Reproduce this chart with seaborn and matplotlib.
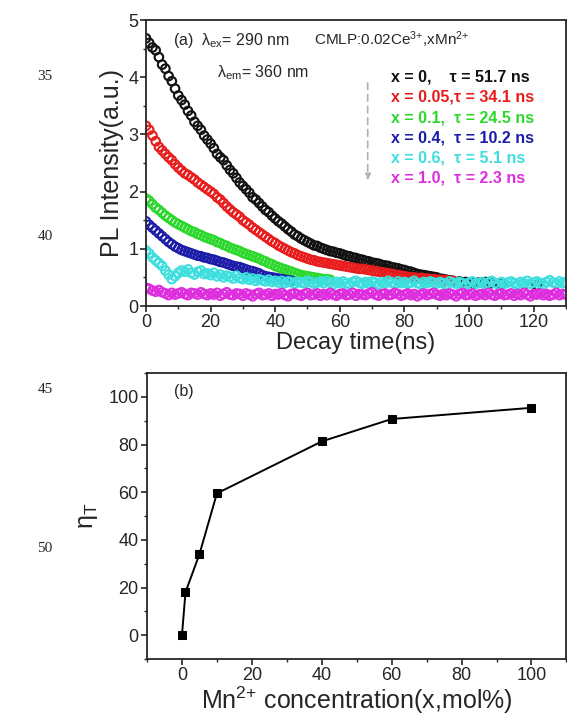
import numpy as np
import pandas as pd
import matplotlib
matplotlib.use("Agg")
import matplotlib.pyplot as plt
import seaborn as sns
from matplotlib.ticker import MultipleLocator

# ---------------- data ----------------
step_ns = 1.0
black_I = [4.68,4.60,4.52,4.47,4.35,4.22,4.15,4.02,3.93,3.80,3.68,3.60,3.52,3.41,3.33,3.22,3.15,3.08,2.98,2.91,
           2.84,2.76,2.66,2.60,2.55,2.46,2.38,2.32,2.24,2.16,2.10,2.04,1.98,1.90,1.86,1.80,1.74,1.68,1.64,1.58,
           1.53,1.48,1.44,1.39,1.34,1.30,1.25,1.22,1.18,1.15,1.12,1.09,1.06,1.05,1.02,1.00,0.98,0.96,0.95,0.93,
           0.92,0.90,0.88,0.87,0.85,0.84,0.82,0.81,0.79,0.78,0.76,0.75,0.74,0.72,0.71,0.70,0.68,0.67,0.66,0.64,
           0.63,0.61,0.60,0.58,0.56,0.55,0.54,0.53,0.52,0.51,0.50,0.48,0.47,0.46,0.45,0.44]
black_tail_t = [97, 99, 101, 103, 105, 107, 110, 119, 121]
black_tail_I = [0.43, 0.42, 0.40, 0.41, 0.42, 0.40, 0.38, 0.33, 0.36]
red_I = [3.15,3.08,2.98,2.88,2.78,2.72,2.66,2.60,2.55,2.48,2.42,2.37,2.32,2.29,2.25,2.21,2.16,2.12,2.08,2.04,
         2.00,1.96,1.90,1.86,1.80,1.74,1.69,1.64,1.60,1.56,1.50,1.46,1.42,1.37,1.33,1.29,1.25,1.21,1.17,1.13,
         1.10,1.06,1.03,1.00,0.97,0.94,0.92,0.89,0.87,0.85,0.83,0.81,0.80,0.78,0.77,0.76,0.75,0.74,0.73,0.72,
         0.71,0.70,0.69,0.68,0.67,0.66,0.65,0.65,0.64,0.63,0.62,0.61,0.60,0.59,0.58,0.57,0.56,0.55,0.54,0.53,
         0.52,0.51,0.50,0.50,0.49,0.49,0.48,0.48,0.47,0.47,0.46,0.46,0.45,0.45,0.44,0.44]
green_I = [1.88,1.84,1.78,1.72,1.68,1.63,1.58,1.54,1.50,1.46,1.43,1.40,1.37,1.34,1.31,1.29,1.26,1.24,1.21,1.19,
           1.17,1.15,1.12,1.10,1.07,1.05,1.02,1.00,0.98,0.96,0.93,0.91,0.89,0.87,0.85,0.83,0.80,0.78,0.75,0.73,
           0.70,0.68,0.66,0.64,0.62,0.60,0.58,0.56,0.54,0.53,0.52,0.51,0.50,0.49,0.48,0.47,0.47,0.46]
blue_I = [1.48,1.42,1.37,1.32,1.27,1.22,1.17,1.12,1.08,1.04,1.01,0.98,0.96,0.94,0.92,0.90,0.88,0.87,0.85,0.84,
          0.82,0.81,0.79,0.77,0.76,0.74,0.72,0.70,0.69,0.68,0.66,0.64,0.62,0.61,0.59,0.57,0.54,0.52,0.51,0.50,
          0.49,0.48,0.47,0.46,0.45,0.44]
cyan_I = [0.97,0.92,0.85,0.80,0.75,0.70,0.62,0.55,0.47,0.52,0.58,
          0.62,0.60,0.64,0.58,0.55,0.60,0.62,0.56,0.57,0.54,
          0.58,0.52,0.55,0.50,0.53,0.51,0.48,0.53,0.49,0.47,
          0.50,0.46,0.48,0.44,0.47,0.45,0.43,0.46,0.42,0.44,
          0.41,0.44,0.40,0.43,0.42,0.39,0.43,0.41,0.40,0.44,
          0.42,0.39,0.41,0.43,0.40,0.44,0.41,0.38,0.42,0.40,
          0.43,0.40,0.38,0.42,0.44,0.41,0.39,0.42,0.40,0.43,
          0.41,0.38,0.42,0.40,0.44,0.41,0.39,0.43,0.40,0.42,
          0.39,0.41,0.44,0.40,0.38,0.42,0.40,0.43,0.41,0.39,
          0.42,0.40,0.38,0.43,0.41,0.39,0.42,0.40,0.37,0.41,
          0.43,0.39,0.40,0.42,0.38,0.41,0.44,0.40,0.38,0.42,
          0.39,0.41,0.43,0.40,0.38,0.42,0.40,0.44,0.39,0.41,
          0.43,0.40,0.38,0.42,0.45,0.41,0.39,0.43,0.40,0.42]
magenta_I = [0.32,0.30,0.27,0.25,0.28,0.24,0.22,0.19,0.23,0.20,0.22,
             0.24,0.21,0.19,0.23,0.22,0.20,0.24,0.21,0.19,0.22,
             0.20,0.23,0.18,0.21,0.24,0.20,0.19,0.22,0.21,0.18,
             0.22,0.20,0.17,0.21,0.23,0.19,0.20,0.22,0.18,0.21,
             0.20,0.23,0.19,0.17,0.21,0.22,0.20,0.18,0.21,0.23,
             0.19,0.20,0.22,0.18,0.21,0.19,0.23,0.20,0.18,0.21,
             0.22,0.19,0.20,0.23,0.18,0.21,0.20,0.19,0.22,0.24,
             0.20,0.18,0.21,0.22,0.19,0.20,0.23,0.21,0.18,0.20,
             0.22,0.19,0.21,0.17,0.20,0.22,0.19,0.21,0.23,0.20,
             0.18,0.21,0.19,0.22,0.20,0.17,0.21,0.23,0.19,0.20,
             0.22,0.18,0.20,0.21,0.19,0.23,0.20,0.18,0.21,0.22,
             0.19,0.20,0.22,0.18,0.21,0.19,0.23,0.20,0.17,0.21,
             0.20,0.22,0.19,0.21,0.18,0.20,0.23,0.19,0.21,0.20]

legend_lines = ["x = 0,    \u03c4 = 51.7 ns", "x = 0.05,\u03c4 = 34.1 ns", "x = 0.1,  \u03c4 = 24.5 ns",
                "x = 0.4,  \u03c4 = 10.2 ns", "x = 0.6,  \u03c4 = 5.1 ns", "x = 1.0,  \u03c4 = 2.3 ns"]

mn_conc = [0, 1, 5, 10, 40, 60, 100]
eta_T = [0, 18, 34, 59.5, 81.3, 90.7, 95.4]

# ---------------- style ----------------
sns.set_style("ticks")
plt.rcParams["font.family"] = ["Liberation Sans", "DejaVu Sans"]
plt.rcParams["mathtext.fontset"] = "custom"
plt.rcParams["mathtext.rm"] = "Liberation Sans"
plt.rcParams["mathtext.it"] = "Liberation Sans"
plt.rcParams["axes.linewidth"] = 1.3
plt.rcParams["xtick.direction"] = "out"
plt.rcParams["ytick.direction"] = "out"

colors = ["#111111", "#e81c1c", "#2bd82b", "#1c1ca8", "#3ddede", "#dd2ddd"]

fig = plt.figure(figsize=(5.67, 7.15), dpi=100)
ax1 = fig.add_axes([0.2575, 0.572, 0.7405, 0.400])
ax2 = fig.add_axes([0.2593, 0.0783, 0.7397, 0.400])

# ---------------- panel (a) ----------------
series = [black_I, red_I, green_I, blue_I, cyan_I, magenta_I]
frames = []
for k, vals in enumerate(series):
    frames.append(pd.DataFrame({"t": np.arange(len(vals)) * step_ns, "I": vals, "s": k}))
frames.append(pd.DataFrame({"t": black_tail_t, "I": black_tail_I, "s": 0}))
df = pd.concat(frames, ignore_index=True)

for k in range(len(series)):
    sub = df[df["s"] == k]
    sns.scatterplot(data=sub, x="t", y="I", ax=ax1, marker="o", s=38, legend=False)
    coll = ax1.collections[-1]
    coll.set_facecolor("none")
    coll.set_edgecolor(colors[k])
    coll.set_linewidth(1.5)

ax1.set_xlim(0, 130)
ax1.set_ylim(0, 5)
ax1.xaxis.set_major_locator(MultipleLocator(20))
ax1.xaxis.set_minor_locator(MultipleLocator(10))
ax1.yaxis.set_major_locator(MultipleLocator(1))
ax1.yaxis.set_minor_locator(MultipleLocator(0.5))
ax1.tick_params(which="major", length=4, width=1.2, labelsize=13, pad=1.5)
ax1.tick_params(which="minor", length=2.5, width=1.0)
ax1.set_xlabel("Decay time(ns)", fontsize=17, labelpad=1)
ax1.set_ylabel("PL Intensity(a.u.)", fontsize=18, labelpad=3)
for sp in ax1.spines.values():
    sp.set_visible(True)

ax1.text(0.065, 0.93, r"(a)  $\mathregular{\lambda_{ex}}$= 290 nm", transform=ax1.transAxes,
         fontsize=11.5, va="center")
ax1.text(0.17, 0.815, r"$\mathregular{\lambda_{em}}$= 360 nm", transform=ax1.transAxes,
         fontsize=11.5, va="center")
ax1.text(0.40, 0.93, r"CMLP:0.02Ce$\mathregular{^{3{+}}}$,xMn$\mathregular{^{2{+}}}$",
         transform=ax1.transAxes, fontsize=11, va="center")
for k, line in enumerate(legend_lines):
    ax1.text(0.583, 0.80 - k * 0.0705, line, transform=ax1.transAxes, fontsize=11.5,
             fontweight="bold", color=colors[k], va="center")
ax1.annotate("", xy=(0.528, 0.43), xytext=(0.528, 0.79), xycoords="axes fraction",
             arrowprops=dict(arrowstyle="-|>", color="#b0b0b0", lw=1.2, ls=(0, (4, 3)),
                             mutation_scale=9))

# ---------------- panel (b) ----------------
dfb = pd.DataFrame({"x": mn_conc, "eta": eta_T})
sns.lineplot(data=dfb, x="x", y="eta", ax=ax2, color="black", lw=1.4, marker="s",
             markersize=6, markeredgecolor="black")
ax2.set_xlim(-10, 110)
ax2.set_ylim(-10, 110)
ax2.xaxis.set_major_locator(MultipleLocator(20))
ax2.xaxis.set_minor_locator(MultipleLocator(10))
ax2.yaxis.set_major_locator(MultipleLocator(20))
ax2.yaxis.set_minor_locator(MultipleLocator(10))
ax2.tick_params(which="major", length=4, width=1.2, labelsize=13, pad=2)
ax2.tick_params(which="minor", length=2.5, width=1.0)
ax2.set_xlabel(r"Mn$\mathregular{^{2{+}}}$ concentration(x,mol%)", fontsize=18, labelpad=0)
ax2.set_ylabel(r"$\mathregular{\eta_{T}}$", fontsize=18, labelpad=6)
ax2.text(0.065, 0.935, "(b)", transform=ax2.transAxes, fontsize=11.5, va="center")

# manuscript line numbers
for lbl, ypx in [("35", 77), ("40", 237), ("45", 390), ("50", 548)]:
    fig.text(45 / 567, 1 - ypx / 715, lbl, fontsize=11, family="Liberation Serif",
             ha="center", va="center")

fig.savefig("out.png", dpi=100)
